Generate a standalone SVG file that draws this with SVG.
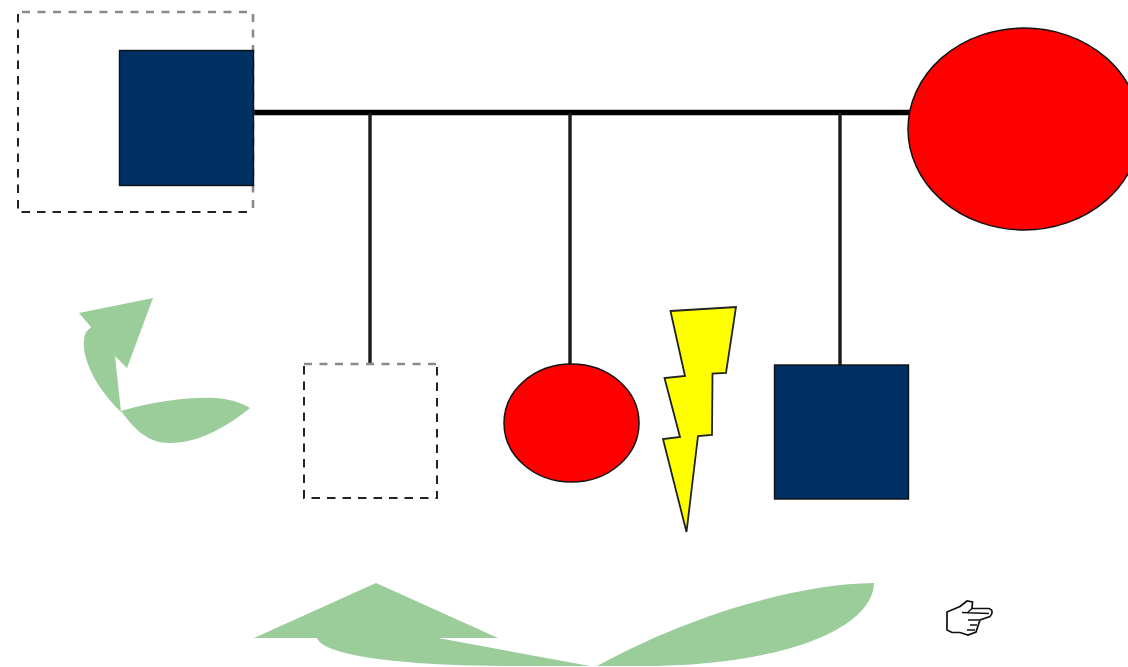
<svg xmlns="http://www.w3.org/2000/svg" width="1128" height="667" viewBox="0 0 1128 667">
<style>
.navy{fill:#003063;stroke:#111;stroke-width:1.4}
.red{fill:#f00;stroke:#111;stroke-width:1.5}
.dash{fill:none;stroke:#222;stroke-width:2;stroke-dasharray:8.500 7}
.dashg{fill:none;stroke:#8a8a8a;stroke-width:2.600;stroke-dasharray:8 7.500}
.green{fill:#9bcd9b}
.line{stroke:#1a1a1a;stroke-width:3.400;fill:none}
</style>
<rect width="1128" height="667" fill="#fff"/>
<g id="connectors">
<path d="M253 112.500H910" stroke="#000" stroke-width="5.400" fill="none"/>
<path class="line" d="M370 113V364M570 113V364M840 113V365"/>
</g>
<g id="node-proband-box">
<path class="dashg" d="M22 12H250"/>
<path class="dash" d="M18 14V212H253"/>
<path class="dashg" d="M253 14V212"/>
</g>
<g id="node-father"><rect class="navy" x="119.500" y="50.500" width="134" height="135"/></g>
<g id="node-mother"><ellipse class="red" cx="1024" cy="129" rx="116" ry="101"/></g>
<g id="node-child-dashed">
<path class="dashg" d="M304 364H437"/>
<path class="dash" d="M304 366V498H437V366"/>
</g>
<g id="node-child-circle"><ellipse class="red" cx="571.500" cy="423" rx="67.500" ry="59"/></g>
<g id="node-bolt"><path d="M670.500 311L736 307L726 373L712.500 373.500L712 435L698 436L686.500 532L663 439L680 437L664.500 378L685 376Z" fill="#ff0" stroke="#222" stroke-width="1.800"/></g>
<g id="node-child-square"><rect class="navy" x="774.500" y="365" width="134" height="134"/></g>
<g id="node-arrow-left"><path class="green" d="M153 298L79 313L91 327L86 332C78 350 92 384 121 412L115 356L127 368Z"/><path class="green" d="M121 411C155 401 190 397 215 398C230 399 242 403 250 408C225 428 198 443 170 443C148 443 135 430 121 411Z"/></g>
<g id="node-arrow-bottom"><path class="green" d="M376 583L254 638L317 638C322 655 400 666 510 666L590 666L438 638L498 638Z"/><path class="green" d="M597 666C680 620 790 584 874 583C873 628 785 666 640 666Z"/></g>
<g id="node-hand"><path d="M947 612V630L952 632.500H960L968 635L976 632L980 620L990 616.500C993 613 993 610 989 608.500H972L972.500 602L967 601L960 606.500Z" fill="#fff" stroke="#111" stroke-width="1.700"/><path d="M962 612.500L989 613.500M972 608.500L968 612M979 620H968M977 625H970M975 630H967" fill="none" stroke="#111" stroke-width="1.400"/></g>
</svg>
